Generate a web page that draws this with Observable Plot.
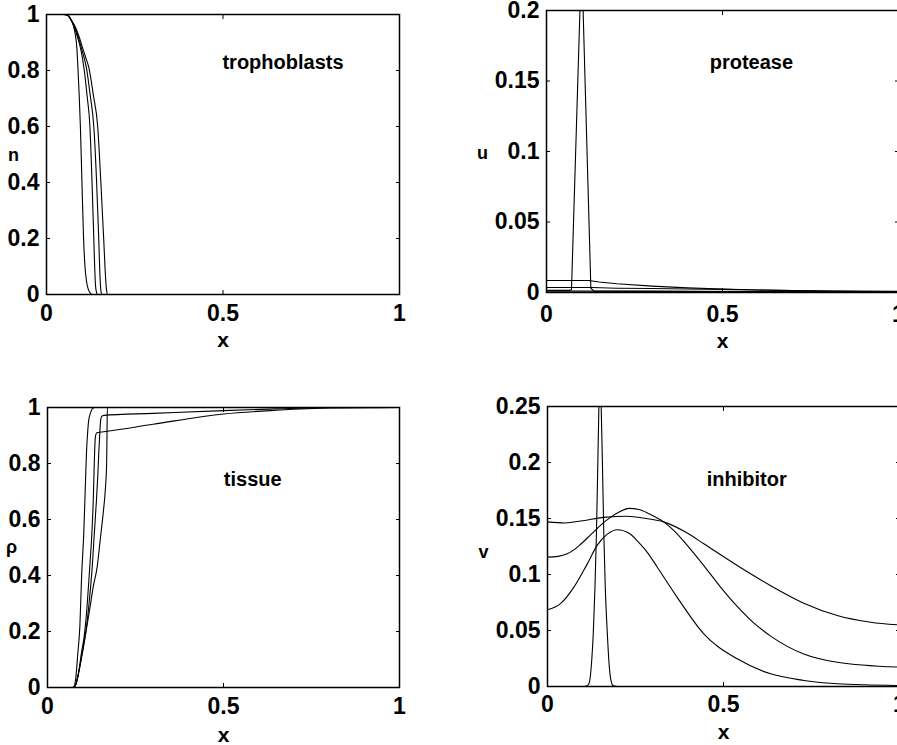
<!DOCTYPE html>
<html>
<head>
<meta charset="utf-8">
<script src="https://cdn.jsdelivr.net/npm/d3@7"></script>
<script src="https://cdn.jsdelivr.net/npm/@observablehq/plot@0.6"></script>
<style>
  html, body { margin: 0; padding: 0; background: #fff; overflow: hidden; }
  #fig { position: relative; width: 897px; height: 745px; overflow: hidden; background: #fff; }
  .panel { position: absolute; }
  .panel svg { max-width: none !important; }
</style>
</head>
<body>
<div id="fig"></div>
<script>
// ---------- tick values ----------
const xTicks = [0, 0.5, 1];
const nTicks = [0, 0.2, 0.4, 0.6, 0.8, 1];
const uTicks = [0, 0.05, 0.1, 0.15, 0.2];
const rhoTicks = [0, 0.2, 0.4, 0.6, 0.8, 1];
const vTicks = [0, 0.05, 0.1, 0.15, 0.2, 0.25];

// ---------- trophoblasts n(x), four times ----------
const n1 = [[0,1],[0.05,1],[0.06,0.997],[0.07,0.98],[0.08,0.94],[0.086,0.88],[0.089,0.81],[0.093,0.7],[0.096,0.6],[0.1,0.42],[0.105,0.2],[0.109,0.1],[0.113,0.05],[0.118,0.02],[0.124,0.005],[0.13,0],[1,0]];
const n2 = [[0,1],[0.05,1],[0.06,0.997],[0.07,0.98],[0.08,0.95],[0.09,0.91],[0.098,0.87],[0.106,0.81],[0.115,0.71],[0.123,0.6],[0.129,0.4],[0.134,0.2],[0.137,0.08],[0.139,0.03],[0.142,0.006],[0.145,0],[1,0]];
const n3 = [[0,1],[0.05,1],[0.06,0.997],[0.07,0.98],[0.08,0.955],[0.09,0.92],[0.1,0.875],[0.113,0.81],[0.124,0.71],[0.134,0.6],[0.142,0.4],[0.148,0.2],[0.151,0.08],[0.153,0.03],[0.155,0.006],[0.157,0],[1,0]];
const n4 = [[0,1],[0.05,1],[0.06,0.997],[0.07,0.98],[0.08,0.96],[0.09,0.93],[0.1,0.89],[0.11,0.85],[0.12,0.81],[0.133,0.71],[0.145,0.6],[0.154,0.4],[0.162,0.2],[0.166,0.09],[0.169,0.03],[0.171,0.008],[0.173,0],[1,0]];

// ---------- protease u(x) ----------
const u1 = [[0,0.0015],[0.065,0.0015],[0.071,0.002],[0.095,0.2],[0.099,0.26],[0.104,0.2],[0.126,0.003],[0.135,0.001],[0.3,0.0008],[1,0.0003]];
const u2 = [[0,0.0085],[0.12,0.0085],[0.15,0.0075],[0.2,0.0062],[0.3,0.0045],[0.4,0.0033],[0.5,0.0025],[0.6,0.0018],[0.7,0.0013],[0.8,0.001],[0.9,0.0008],[1,0.0007]];
const u3 = [[0,0.0035],[0.13,0.0035],[0.2,0.003],[0.3,0.0028],[0.4,0.0025],[0.5,0.0022],[0.6,0.0018],[0.7,0.0014],[0.8,0.0011],[0.9,0.0009],[1,0.0008]];
const u4 = [[0,0.001],[0.2,0.001],[0.4,0.0009],[0.6,0.0007],[0.8,0.0005],[1,0.0004]];

// ---------- tissue rho(x) ----------
const r1 = [[0,0],[0.07,0],[0.076,0.005],[0.08,0.03],[0.086,0.12],[0.092,0.22],[0.097,0.4],[0.103,0.55],[0.107,0.7],[0.111,0.846],[0.114,0.91],[0.117,0.954],[0.122,0.98],[0.127,0.995],[0.135,1],[1,1]];
const r2 = [[0,0],[0.072,0],[0.08,0.01],[0.088,0.05],[0.097,0.11],[0.108,0.19],[0.118,0.3],[0.127,0.43],[0.133,0.55],[0.139,0.668],[0.143,0.76],[0.146,0.846],[0.149,0.92],[0.151,0.955],[0.154,0.968],[0.16,0.972],[0.3,0.979],[0.5,0.989],[0.65,0.995],[0.8,0.999],[1,1]];
const r3 = [[0,0],[0.072,0],[0.08,0.01],[0.088,0.05],[0.096,0.12],[0.105,0.19],[0.113,0.3],[0.12,0.43],[0.126,0.55],[0.13,0.668],[0.132,0.76],[0.134,0.846],[0.136,0.895],[0.14,0.91],[0.17,0.915],[0.3,0.94],[0.5,0.977],[0.65,0.99],[0.8,0.998],[1,1]];
const r4 = [[0,0],[0.072,0],[0.08,0.01],[0.088,0.05],[0.097,0.11],[0.108,0.19],[0.12,0.28],[0.13,0.36],[0.141,0.43],[0.15,0.53],[0.158,0.62],[0.165,0.72],[0.168,0.8],[0.169,0.9],[0.17,1],[1,1]];

// ---------- inhibitor v(x) ----------
const v1 = [[0,0],[0.1,0],[0.11,0.0005],[0.117,0.002],[0.122,0.01],[0.126,0.025],[0.13,0.047],[0.135,0.09],[0.139,0.136],[0.143,0.2],[0.146,0.25],[0.149,0.29],[0.1525,0.25],[0.156,0.2],[0.16,0.136],[0.164,0.09],[0.17,0.047],[0.175,0.02],[0.18,0.006],[0.186,0.001],[0.2,0],[1,0]];
const v2 = [[0,0.147],[0.05,0.146],[0.1,0.148],[0.16,0.151],[0.226,0.152],[0.28,0.15],[0.33,0.147],[0.397,0.137],[0.444,0.1274],[0.539,0.108],[0.634,0.09],[0.728,0.0744],[0.823,0.0634],[0.918,0.0574],[1,0.055]];
const v3 = [[0,0.1155],[0.03,0.1162],[0.056,0.1185],[0.075,0.122],[0.094,0.127],[0.118,0.134],[0.141,0.141],[0.16,0.1465],[0.179,0.151],[0.205,0.156],[0.231,0.159],[0.26,0.158],[0.29,0.154],[0.33,0.147],[0.36,0.139],[0.397,0.126],[0.444,0.108],[0.491,0.089],[0.539,0.0715],[0.585,0.057],[0.634,0.045],[0.728,0.029],[0.823,0.0217],[1,0.0173]];
const v4 = [[0,0.0685],[0.037,0.074],[0.075,0.0887],[0.113,0.1095],[0.141,0.126],[0.17,0.136],[0.198,0.14],[0.236,0.136],[0.255,0.13],[0.283,0.12],[0.312,0.1065],[0.368,0.0798],[0.444,0.047],[0.539,0.0247],[0.634,0.0113],[0.728,0.0054],[0.823,0.0024],[1,0.0009]];

const toRows = (curves) => curves.flatMap((c, i) => c.map(([x, y]) => ({x, y, series: i})));

const FONT = "'Liberation Sans', Arial, Helvetica, sans-serif";

function panel(cfg) {
  const {rows, yDomain, yTicks, yLabel, title, titleX, titleY,
         left, top, width, height, mL, mR, mT, mB, xPad, yLabelDx, yLabelDy, xLabelDy, curve} = cfg;
  const chart = Plot.plot({
    width, height,
    marginLeft: mL, marginRight: mR, marginTop: mT, marginBottom: mB,
    x: {domain: [0, 1], label: null},
    y: {domain: yDomain, label: null},
    style: {fontFamily: FONT, background: "white", color: "black", overflow: "visible", maxWidth: "none"},
    marks: [
      Plot.line(rows, {x: "x", y: "y", z: "series", stroke: "black", strokeWidth: 1.1, curve, clip: true}),
      Plot.frame({stroke: "black", strokeWidth: 1.5}),
      Plot.axisX({ticks: xTicks, anchor: "bottom", tickSize: -4, tickPadding: xPad, tickFormat: d => String(d), fontSize: 23, fontWeight: "bold", label: null}),
      Plot.axisX({ticks: xTicks, anchor: "top", tickSize: -4, fill: "none", label: null}),
      Plot.axisY({ticks: yTicks, anchor: "left", tickSize: -4, tickPadding: 11, tickFormat: d => String(d), fontSize: 23, fontWeight: "bold", label: null}),
      Plot.axisY({ticks: yTicks, anchor: "right", tickSize: -4, fill: "none", label: null}),
      Plot.text([title], {x: () => titleX, y: () => titleY, text: d => d, fontSize: 20, fontWeight: "bold", fill: "black"}),
      Plot.text([yLabel], {frameAnchor: "left", textAnchor: "middle", lineAnchor: "middle", text: d => d, dx: yLabelDx, dy: yLabelDy, fontSize: 18, fontWeight: "bold", fill: "black"}),
      Plot.text(["x"], {frameAnchor: "bottom", textAnchor: "middle", lineAnchor: "middle", text: d => d, dy: xLabelDy, fontSize: 21, fontWeight: "bold", fill: "black"})
    ]
  });
  const div = document.createElement("div");
  div.className = "panel";
  div.style.left = left + "px";
  div.style.top = top + "px";
  div.style.width = width + "px";
  div.appendChild(chart);
  document.getElementById("fig").appendChild(div);
}

panel({rows: toRows([n1, n2, n3, n4]), yDomain: [0, 1], yTicks: nTicks, yLabel: "n",
  title: "trophoblasts", titleX: 0.67, titleY: 0.83,
  left: 0, top: 0, width: 440, height: 360, mL: 46, mR: 41, mT: 14, mB: 66, xPad: 14,
  yLabelDx: -33, yLabelDy: 1, xLabelDy: 46, curve: "monotone-x"});

panel({rows: toRows([u1, u2, u3, u4]), yDomain: [0, 0.2], yTicks: uTicks, yLabel: "u",
  title: "protease", titleX: 0.582, titleY: 0.1634,
  left: 470, top: 0, width: 440, height: 360, mL: 76, mR: 12, mT: 10, mB: 68, xPad: 17,
  yLabelDx: -64, yLabelDy: 2, xLabelDy: 49, curve: "linear"});

panel({rows: toRows([r1, r2, r3, r4]), yDomain: [0, 1], yTicks: rhoTicks, yLabel: "ρ",
  title: "tissue", titleX: 0.583, titleY: 0.741,
  left: 0, top: 380, width: 440, height: 365, mL: 47, mR: 41, mT: 27, mB: 58, xPad: 14,
  yLabelDx: -36, yLabelDy: 0, xLabelDy: 48, curve: "monotone-x"});

panel({rows: toRows([v1, v2, v3, v4]), yDomain: [0, 0.25], yTicks: vTicks, yLabel: "v",
  title: "inhibitor", titleX: 0.566, titleY: 0.1843,
  left: 470, top: 380, width: 440, height: 365, mL: 77, mR: 11, mT: 26, mB: 59, xPad: 13,
  yLabelDx: -64, yLabelDy: 6, xLabelDy: 46, curve: "monotone-x"});
</script>
</body>
</html>
